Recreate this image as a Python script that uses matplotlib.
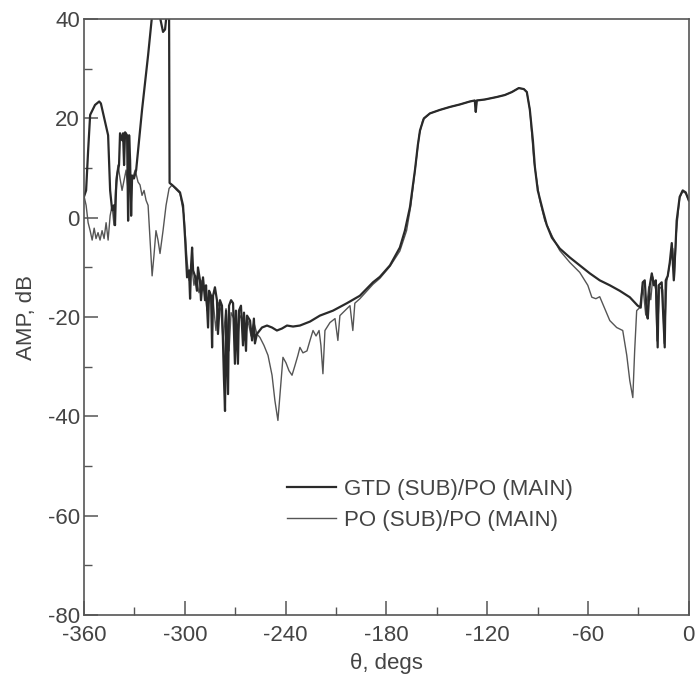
import numpy as np
import matplotlib
matplotlib.use("Agg")
import matplotlib.pyplot as plt
from matplotlib.ticker import MultipleLocator

plt.rcParams["font.family"] = ["Liberation Sans", "DejaVu Sans"]
plt.rcParams["axes.unicode_minus"] = False

# (theta deg, amplitude dB)
gtd_points = [
    (-360, 4.3), (-358.8, 5.5), (-357.6, 13.5), (-356.4, 20.7), (-353.5, 22.7), (-351, 23.4),
    (-350, 23.0), (-348, 20.0), (-345.7, 16.6), (-344.5, 5.5), (-343.3, 1.5), (-342.2, 2.5),
    (-341.6, -1.5), (-341, 5.5), (-340.4, 8.5), (-339.2, 10.6), (-338.6, 17.0), (-337.4, 15.6),
    (-336.8, 17.0), (-336.2, 10.6), (-335.6, 17.2), (-334.4, 16.6), (-333.8, -0.6), (-333.2, 16.6),
    (-332.6, 11.5), (-332, 0.4), (-331.4, 8.5), (-330.3, 7.9), (-329, 9.6), (-325.5, 21.7),
    (-321.9, 32.7), (-319.5, 40.8), (-317.8, 42.8), (-316, 42.3), (-313, 37.4), (-311.8, 37.9),
    (-310.6, 41.8), (-309.4, 40.8), (-309.1, 7.0), (-307.6, 6.6), (-305.3, 5.9), (-302.9, 5.1),
    (-301.1, 2.5), (-299.9, -4.0), (-298.7, -12.0), (-297.5, -10.6), (-296.9, -16.3), (-296.3, -9.6),
    (-295.7, -6.0), (-295.1, -10.6), (-294, -11.7), (-292.8, -14.7), (-292.2, -10.0), (-291, -12.6),
    (-290.4, -16.6), (-289.2, -12.0), (-288, -16.6), (-287.4, -13.6), (-286.2, -22.1), (-285.6, -14.7),
    (-284.4, -15.7), (-283.8, -26.1), (-283.2, -15.7), (-282.1, -14.0), (-280.9, -16.6), (-280.3, -23.4),
    (-279.1, -16.6), (-277.9, -17.7), (-276.7, -32.8), (-276.1, -38.9), (-275.5, -18.7), (-274.3, -35.5),
    (-273.7, -17.7), (-272.5, -16.6), (-271.3, -17.2), (-270.2, -29.4), (-269.6, -18.7), (-268.4, -29.4),
    (-267.8, -18.7), (-266.6, -17.7), (-265.4, -25.7), (-264.8, -19.1), (-263.6, -26.8), (-263, -19.7),
    (-261.2, -20.7), (-260, -24.7), (-258.9, -20.3), (-258.3, -25.3), (-257.1, -23.4),
    (-254.1, -22.1), (-251.1, -21.7), (-248.1, -22.1), (-245.2, -22.7), (-242.2, -22.3), (-239.2, -21.7),
    (-235.6, -21.9), (-231.5, -21.7), (-225.5, -20.9), (-219.6, -19.7), (-211.8, -18.7), (-203.5, -17.2),
    (-195.8, -15.7), (-188, -13.0), (-183.9, -11.9), (-177.9, -9.6), (-172, -6.0), (-169, -2.6),
    (-166, 2.1), (-164.2, 6.6), (-163, 9.6), (-161.3, 14.6), (-160, 17.6), (-157.7, 20.0),
    (-154.1, 21.0), (-148.2, 21.7), (-142.2, 22.3), (-136.3, 22.8), (-130.3, 23.4), (-127.4, 23.6),
    (-126.8, 21.3), (-126.2, 23.6), (-121.4, 23.8), (-114.3, 24.3), (-109.5, 24.7), (-105.3, 25.3),
    (-101.2, 26.1), (-98.2, 25.9), (-96.4, 25.3), (-94.6, 21.7), (-92.8, 15.6), (-91.6, 10.2),
    (-89.9, 5.5), (-86.9, 1.5), (-84.5, -1.5), (-81.5, -4.0), (-76.8, -6.2), (-70.8, -8.0),
    (-64.9, -9.6), (-58.9, -11.2), (-53, -12.6), (-47, -13.6), (-41.1, -14.7), (-35.1, -16.0),
    (-30.4, -17.7), (-28.6, -18.1), (-27.4, -13.0), (-26.2, -12.6), (-25, -19.3), (-24.4, -20.3),
    (-23.2, -13.6), (-22.0, -11.2), (-20.8, -13.6), (-19.6, -12.6), (-18.5, -26.1), (-17.9, -13.6),
    (-16.1, -13.0), (-14.3, -26.1), (-13.7, -12.6), (-12.5, -11.7), (-11.3, -9.0), (-10.1, -5.1),
    (-8.9, -12.6), (-7.7, -4.5), (-7.2, -0.6), (-6, 2.5), (-5.4, 4.2), (-3.6, 5.5), (-1.8, 5.1), (0, 3.5),
]

po_points = [
    (-360, 4.3), (-358.8, 2.5), (-357.6, -1.0), (-356.4, -2.6), (-355.2, -4.5), (-354, -2.1),
    (-352.9, -4.2), (-351.7, -3.0), (-350.5, -4.5), (-349.3, -2.6), (-348.1, -4.2), (-346.9, -1.0),
    (-345.7, -4.5), (-344.5, 0.4), (-343.3, 2.5), (-342.2, -1.5), (-341, 7.5), (-339.8, 10.6),
    (-338.6, 7.9), (-337.4, 5.5), (-336.2, 7.5), (-335, 9.6), (-333.8, 5.5), (-332.6, 8.5),
    (-331.4, 7.5), (-329.6, 9.6), (-327.9, 7.2), (-326.7, 6.6), (-325.5, 4.5), (-324.3, 5.5),
    (-323.1, 3.5), (-321.9, 2.5), (-320.7, -4.5), (-319.5, -11.7), (-318.4, -7.6), (-317.2, -2.6),
    (-316, -4.5), (-314.8, -7.2), (-313, -2.6), (-311.2, 2.5), (-309.4, 5.9), (-307.6, 6.6),
    (-305.3, 5.7), (-302.9, 4.9), (-300.5, 0.4), (-298.7, -8.6), (-297.5, -12.6), (-295.7, -10.2),
    (-294.6, -13.6), (-293.4, -11.7), (-291.6, -15.1), (-289.8, -12.6), (-288, -14.7), (-286.8, -18.7),
    (-285, -15.7), (-283.2, -16.6), (-281.5, -22.7), (-280.3, -17.0), (-278.5, -18.7), (-277.3, -24.7),
    (-275.5, -18.3), (-273.7, -26.8), (-272.5, -19.1), (-270.8, -20.3), (-269, -25.7), (-267.2, -19.7),
    (-265.4, -20.7), (-264.2, -24.7), (-262.4, -20.7), (-260.6, -23.8), (-258.9, -21.1), (-257.1, -23.4),
    (-255.3, -24.1), (-252.9, -25.7), (-250.5, -27.7), (-248.1, -31.7), (-246.4, -36.8), (-244.6, -40.8),
    (-243.4, -35.8), (-241.6, -28.1), (-239.8, -29.2), (-238, -30.8), (-236.2, -31.7), (-234.5, -29.8),
    (-232.7, -27.7), (-231.5, -26.1), (-229.7, -27.2), (-227.3, -26.8), (-225.5, -24.7), (-223.7, -22.7),
    (-221.9, -23.8), (-220.1, -22.7), (-219, -25.7), (-217.8, -31.4), (-216.6, -22.7), (-213.6, -21.1),
    (-210.6, -20.3), (-208.9, -24.7), (-207.7, -19.7), (-204.7, -18.7), (-201.7, -17.7), (-200, -22.7),
    (-198.8, -17.2), (-195.8, -16.3), (-188, -13.4), (-183.9, -12.2), (-177.9, -9.8), (-172, -6.7),
    (-168, -2.6), (-165.4, 2.6), (-163.6, 7.8), (-162, 12.5), (-160.5, 16.6), (-158.3, 19.7),
    (-154.1, 21.0), (-148.2, 21.7), (-142.2, 22.3), (-136.3, 22.8), (-130.3, 23.4), (-127.4, 23.6),
    (-126.8, 21.3), (-126.2, 23.6), (-121.4, 23.8), (-114.3, 24.3), (-109.5, 24.7), (-105.3, 25.3),
    (-101.2, 26.1), (-98.2, 25.9), (-96.4, 25.3), (-94.6, 21.8), (-93.4, 16.6), (-92.2, 11.4),
    (-90.5, 7.5), (-88.7, 3.5), (-85.7, -0.6), (-80.9, -4.0), (-76.8, -6.6), (-70.8, -9.0),
    (-64.9, -11.0), (-60.1, -13.6), (-57.7, -16.0), (-55.3, -16.3), (-53, -15.9), (-50, -18.3),
    (-47, -20.7), (-42.9, -22.1), (-39.3, -22.7), (-36.9, -27.7), (-35.1, -32.8), (-33.3, -36.2),
    (-32.2, -26.8), (-31, -18.7), (-29.2, -18.1), (-27.4, -13.4), (-25.6, -19.6), (-23.8, -13.9),
    (-22.6, -16.5), (-21.4, -11.9), (-19.6, -14.5), (-18.9, -24.8), (-17.3, -13.9), (-15.5, -14.5),
    (-14.6, -25.3), (-13.1, -12.9), (-11.3, -9.3), (-9.5, -6.2), (-8.6, -12.4), (-7.4, -3.1),
    (-6.3, 1.1), (-5.4, 4.0), (-3.6, 5.3), (-1.8, 4.9), (0, 3.5),
]

gtd = np.array(gtd_points)
po = np.array(po_points)

txt = "#444444"
fig = plt.figure(figsize=(6.95, 6.79), dpi=100)
ax = fig.add_axes([0.121, 0.094, 0.870, 0.878])

ax.plot(po[:, 0], po[:, 1], color="#555555", lw=1.0, label="PO (SUB)/PO (MAIN)")
ax.plot(gtd[:, 0], gtd[:, 1], color="#2a2a2a", lw=1.6, label="GTD (SUB)/PO (MAIN)")

ax.set_xlim(-360, 0)
ax.set_ylim(-80, 40)
ax.xaxis.set_major_locator(MultipleLocator(60))
ax.xaxis.set_minor_locator(MultipleLocator(30))
ax.yaxis.set_major_locator(MultipleLocator(20))
ax.yaxis.set_minor_locator(MultipleLocator(10))
ax.tick_params(which="both", direction="in", colors="#555555", labelcolor=txt,
               labelsize=16, top=False, right=False)
ax.tick_params(which="major", length=10, width=1.1)
ax.tick_params(which="minor", length=6, width=1.0)
ax.tick_params(axis="x", pad=7)
ax.tick_params(axis="y", pad=3)
for s in ax.spines.values():
    s.set_color("#555555")
    s.set_linewidth(1.2)

ax.set_xlabel("θ, degs", fontsize=16, color=txt, labelpad=5)
ax.set_ylabel("AMP, dB", fontsize=16, color=txt, labelpad=8)

h, l = ax.get_legend_handles_labels()
ax.legend(h[::-1], l[::-1], loc="upper left", bbox_to_anchor=(0.336, 0.229),
          frameon=False, fontsize=16, handlelength=2.2, handletextpad=0.35,
          labelspacing=0.45, borderpad=0, borderaxespad=0, labelcolor=txt)

fig.savefig("out.png", dpi=100)
